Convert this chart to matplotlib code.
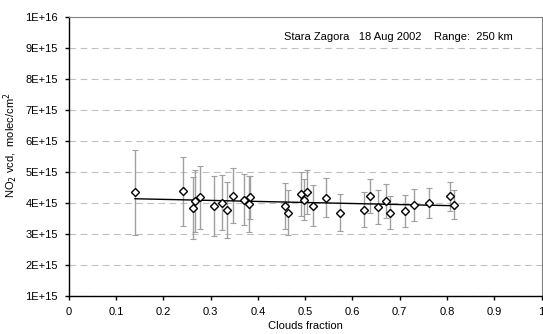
import matplotlib
matplotlib.use("Agg")
import matplotlib.pyplot as plt
import numpy as np

plt.rcParams["font.family"] = ["Liberation Sans", "DejaVu Sans"]

# cloud fraction, NO2 vcd (1E15 molec/cm2) and error half-width
cloud = [0.140, 0.242, 0.267, 0.263, 0.278, 0.307, 0.324, 0.335, 0.348, 0.371,
         0.381, 0.384, 0.458, 0.463, 0.491, 0.504, 0.498, 0.516, 0.543, 0.573,
         0.625, 0.637, 0.653, 0.672, 0.680, 0.711, 0.730, 0.763, 0.807, 0.815]
vcd = [4.35, 4.38, 4.07, 3.84, 4.18, 3.90, 4.01, 3.77, 4.24, 4.10,
       3.98, 4.18, 3.90, 3.69, 4.29, 4.36, 4.11, 3.91, 4.17, 3.69,
       3.78, 4.23, 3.87, 4.06, 3.68, 3.74, 3.94, 4.00, 4.22, 3.94]
err = [1.37, 1.12, 1.01, 1.00, 1.01, 0.96, 0.88, 0.90, 0.88, 0.82,
       0.90, 0.70, 0.74, 0.73, 0.71, 0.70, 0.65, 0.66, 0.63, 0.60,
       0.57, 0.55, 0.55, 0.55, 0.53, 0.51, 0.52, 0.49, 0.47, 0.47]

x = np.array(cloud)
y = np.array(vcd) * 1e15
e = np.array(err) * 1e15

fig = plt.figure(figsize=(5.43, 3.34), dpi=100)
ax = fig.add_axes([68.9 / 543, 38 / 334, (541.5 - 68.9) / 543, (296 - 17) / 334])

ax.errorbar(x, y, yerr=e, fmt="none", ecolor="#a0a0a0", elinewidth=1,
            capsize=2.2, capthick=0.8, zorder=2)

# linear trend
k, b = np.polyfit(x, y, 1)
xt = np.array([x.min(), x.max()])
ax.plot(xt, k * xt + b, color="black", lw=1, zorder=3)

ax.plot(x, y, ls="none", marker="D", ms=4.3, mfc="white", mec="black",
        mew=1, zorder=4)

ax.set_xlim(0, 1)
ax.set_ylim(1e15, 1e16)
ax.set_xticks(np.arange(0, 1.01, 0.1))
ax.set_xticklabels(["0", "0.1", "0.2", "0.3", "0.4", "0.5", "0.6", "0.7",
                    "0.8", "0.9", "1"])
yt = np.arange(1, 11) * 1e15
ax.set_yticks(yt)
ax.set_yticklabels([f"{i}E+15" for i in range(1, 10)] + ["1E+16"])

ax.grid(axis="y", color="#c0c0c0", ls=(0, (6, 4)), lw=0.8)
ax.set_axisbelow(True)

for s in ["top", "right"]:
    ax.spines[s].set_color("#808080")
    ax.spines[s].set_linewidth(0.8)
for s in ["left", "bottom"]:
    ax.spines[s].set_color("black")
    ax.spines[s].set_linewidth(1)

ax.tick_params(direction="out", length=3, width=1, labelsize=8,
               colors="black", pad=5)

ax.set_xlabel("Clouds fraction", fontsize=8, labelpad=3)
ax.set_ylabel("NO$_2$ vcd,  molec/cm$^2$", fontsize=8)
ax.yaxis.set_label_coords(-0.104, 0.54)

ax.text(0.455, 0.93, "Stara Zagora   18 Aug 2002    Range:  250 km",
        transform=ax.transAxes, fontsize=8, va="center", ha="left")

fig.savefig("out.png", dpi=100)
